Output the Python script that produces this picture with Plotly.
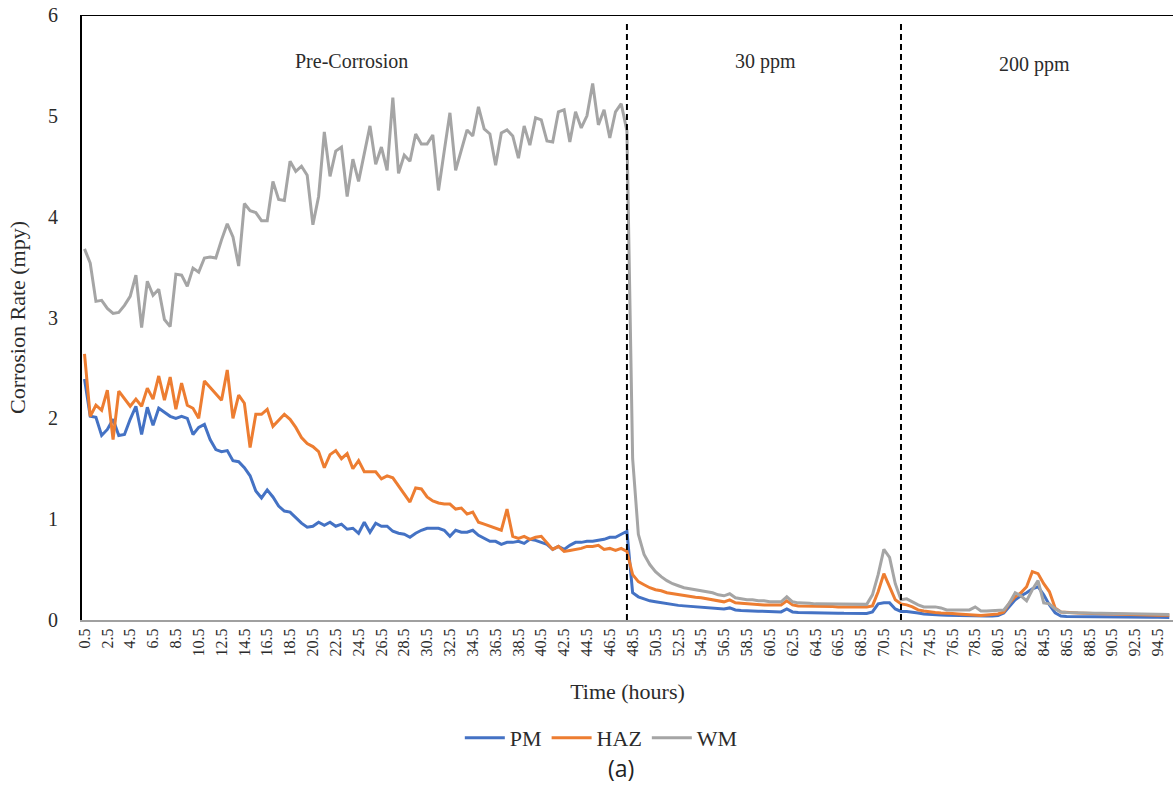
import plotly.graph_objects as go

# Sampling times (hours), every half hour from 0.5 h
hours = [i * 0.5 for i in range(1, 192)]

# Corrosion rate (mpy) per zone
pm = [
    2.39, 2.02, 2.01, 1.83, 1.89, 1.99, 1.83, 1.84, 1.99, 2.12,
    1.84, 2.11, 1.93, 2.10, 2.06, 2.02, 2.00, 2.02, 2.00, 1.84,
    1.91, 1.94, 1.79, 1.69, 1.67, 1.68, 1.58, 1.57, 1.51, 1.43,
    1.28, 1.21, 1.29, 1.22, 1.13, 1.08, 1.07, 1.01, 0.96, 0.92,
    0.93, 0.97, 0.94, 0.97, 0.93, 0.95, 0.90, 0.91, 0.86, 0.97,
    0.87, 0.96, 0.93, 0.93, 0.88, 0.86, 0.85, 0.82, 0.86, 0.89,
    0.91, 0.91, 0.91, 0.89, 0.83, 0.89, 0.87, 0.87, 0.89, 0.84,
    0.81, 0.78, 0.78, 0.75, 0.77, 0.77, 0.78, 0.76, 0.80, 0.79,
    0.77, 0.75, 0.70, 0.73, 0.70, 0.74, 0.77, 0.77, 0.78, 0.78,
    0.79, 0.80, 0.82, 0.82, 0.85, 0.88, 0.27, 0.23, 0.21, 0.19,
    0.18, 0.17, 0.16, 0.15, 0.145, 0.14, 0.135, 0.13, 0.125, 0.12,
    0.115, 0.11, 0.11, 0.12, 0.10, 0.095, 0.09, 0.09, 0.088, 0.085,
    0.083, 0.08, 0.08, 0.11, 0.08, 0.075, 0.075, 0.072, 0.072, 0.07,
    0.07, 0.068, 0.068, 0.066, 0.066, 0.065, 0.065, 0.065, 0.08, 0.16,
    0.17, 0.17, 0.11, 0.085, 0.085, 0.08, 0.07, 0.06, 0.055, 0.05,
    0.05, 0.048, 0.046, 0.045, 0.044, 0.043, 0.042, 0.041, 0.04, 0.04,
    0.045, 0.07, 0.14, 0.20, 0.24, 0.27, 0.31, 0.33, 0.25, 0.15,
    0.07, 0.04, 0.035, 0.034, 0.034, 0.033, 0.033, 0.032, 0.032, 0.031,
    0.031, 0.03, 0.03, 0.029, 0.029, 0.028, 0.028, 0.027, 0.027, 0.026,
    0.026,
]

haz = [
    2.64, 2.02, 2.13, 2.08, 2.28, 1.79, 2.27, 2.19, 2.12, 2.19,
    2.12, 2.30, 2.19, 2.42, 2.18, 2.41, 2.09, 2.35, 2.13, 2.10,
    2.00, 2.37, 2.31, 2.24, 2.18, 2.48, 2.00, 2.23, 2.15, 1.71,
    2.04, 2.04, 2.09, 1.92, 1.98, 2.04, 1.99, 1.91, 1.81, 1.75,
    1.72, 1.67, 1.51, 1.64, 1.68, 1.60, 1.65, 1.50, 1.58, 1.47,
    1.47, 1.47, 1.40, 1.43, 1.41, 1.33, 1.25, 1.17, 1.31, 1.30,
    1.22, 1.18, 1.16, 1.15, 1.15, 1.10, 1.11, 1.05, 1.07, 0.97,
    0.95, 0.93, 0.91, 0.89, 1.10, 0.83, 0.81, 0.83, 0.80, 0.82,
    0.83, 0.76, 0.70, 0.73, 0.68, 0.69, 0.70, 0.71, 0.73, 0.73,
    0.74, 0.70, 0.71, 0.69, 0.71, 0.68, 0.45, 0.38, 0.35, 0.32,
    0.30, 0.29, 0.27, 0.26, 0.25, 0.24, 0.23, 0.225, 0.22, 0.21,
    0.20, 0.19, 0.18, 0.20, 0.17, 0.165, 0.16, 0.16, 0.155, 0.15,
    0.15, 0.15, 0.15, 0.19, 0.15, 0.14, 0.14, 0.14, 0.14, 0.135,
    0.135, 0.135, 0.13, 0.13, 0.13, 0.13, 0.13, 0.13, 0.14, 0.28,
    0.46, 0.33, 0.20, 0.16, 0.15, 0.13, 0.10, 0.09, 0.08, 0.075,
    0.07, 0.07, 0.065, 0.06, 0.055, 0.05, 0.045, 0.045, 0.05, 0.055,
    0.06, 0.08, 0.17, 0.23, 0.27, 0.33, 0.48, 0.46, 0.36, 0.28,
    0.12, 0.08, 0.075, 0.07, 0.07, 0.068, 0.066, 0.065, 0.064, 0.062,
    0.06, 0.058, 0.056, 0.055, 0.053, 0.052, 0.05, 0.049, 0.048, 0.047,
    0.046,
]

wm = [
    3.68, 3.54, 3.16, 3.17, 3.09, 3.04, 3.05, 3.12, 3.21, 3.42,
    2.90, 3.36, 3.22, 3.28, 2.98, 2.91, 3.43, 3.42, 3.31, 3.49,
    3.45, 3.59, 3.60, 3.59, 3.77, 3.93, 3.80, 3.51, 4.13, 4.06,
    4.04, 3.96, 3.96, 4.35, 4.17, 4.16, 4.55, 4.45, 4.50, 4.41,
    3.92, 4.20, 4.84, 4.40, 4.65, 4.69, 4.20, 4.57, 4.35, 4.62,
    4.90, 4.52, 4.69, 4.46, 5.18, 4.43, 4.61, 4.55, 4.82, 4.72,
    4.72, 4.81, 4.26, 4.65, 5.03, 4.46, 4.65, 4.86, 4.80, 5.09,
    4.87, 4.82, 4.51, 4.83, 4.86, 4.80, 4.58, 4.90, 4.71, 4.98,
    4.96, 4.75, 4.74, 5.04, 5.06, 4.74, 5.04, 4.88, 5.00, 5.32,
    4.91, 5.06, 4.78, 5.04, 5.12, 4.85, 1.60, 0.85, 0.65, 0.55,
    0.48, 0.43, 0.39, 0.36, 0.34, 0.32, 0.31, 0.30, 0.29, 0.28,
    0.27, 0.25, 0.24, 0.26, 0.22, 0.21, 0.20, 0.20, 0.19, 0.19,
    0.18, 0.18, 0.18, 0.23, 0.18, 0.17, 0.17, 0.165, 0.16, 0.16,
    0.16, 0.16, 0.16, 0.155, 0.155, 0.155, 0.155, 0.155, 0.25, 0.45,
    0.70, 0.62, 0.36, 0.20, 0.21, 0.18, 0.15, 0.13, 0.13, 0.13,
    0.12, 0.10, 0.10, 0.10, 0.10, 0.10, 0.13, 0.09, 0.09, 0.095,
    0.095, 0.10, 0.17, 0.27, 0.24, 0.19, 0.30, 0.39, 0.17, 0.16,
    0.11, 0.08, 0.075, 0.075, 0.072, 0.07, 0.07, 0.068, 0.067, 0.066,
    0.065, 0.064, 0.063, 0.062, 0.06, 0.06, 0.058, 0.057, 0.056, 0.055,
    0.055,
]

# Axis ticks: one label every two hours
tick_hours = [0.5 + 2 * i for i in range(48)]
tick_labels = [f"{h:.1f}" for h in tick_hours]

# Stage boundaries and stage captions
stage_bounds = [48, 72]
stage_names = ["Pre-Corrosion", "30 ppm", "200 ppm"]
stage_label_x = [23.9, 60.1, 83.7]
stage_label_y = [5.54, 5.54, 5.51]

series = [("PM", pm, "#4472C4"), ("HAZ", haz, "#ED7D31"), ("WM", wm, "#A5A5A5")]

serif = "Liberation Serif"
text_color = "#2b2b2b"

fig = go.Figure()
for name, vals, color in series:
    fig.add_trace(go.Scatter(
        x=hours, y=vals, name=name, mode="lines",
        line=dict(color=color, width=3),
    ))

shapes = [
    # frame line along the top of the plot
    dict(type="line", xref="paper", yref="y", x0=0, x1=1, y0=6, y1=6,
         line=dict(color="#000000", width=2)),
]
for xb in stage_bounds:
    shapes.append(dict(type="line", xref="x", yref="y", x0=xb, x1=xb, y0=0, y1=5.93,
                       line=dict(color="#000000", width=2, dash="6px,4px")))

annotations = []
for txt, ax, ay in zip(stage_names, stage_label_x, stage_label_y):
    annotations.append(dict(x=ax, y=ay, xref="x", yref="y", text=txt, showarrow=False,
                            font=dict(family=serif, size=20, color=text_color)))
annotations.append(dict(x=0.494, y=-0.245, xref="paper", yref="paper", text="(a)",
                        showarrow=False, xanchor="center", yanchor="middle",
                        font=dict(family="Open Sans", size=23, color="#222222")))

fig.update_layout(
    width=1173, height=785,
    margin=dict(l=82, r=0, t=15, b=165),
    paper_bgcolor="white", plot_bgcolor="white",
    showlegend=True,
    legend=dict(orientation="h", x=0.476, xanchor="center", y=-0.195, yanchor="middle",
                font=dict(family=serif, size=22, color=text_color),
                itemwidth=40, tracegroupgap=0),
    xaxis=dict(
        range=[0.28, 95.82], tickmode="array", tickvals=tick_hours, ticktext=tick_labels,
        tickangle=-90, tickfont=dict(family=serif, size=16, color=text_color),
        showline=True, linecolor="#a0a0a0", linewidth=2, showgrid=False, zeroline=False,
        ticks="",
        title=dict(text="Time (hours)", font=dict(family=serif, size=22, color=text_color),
                   standoff=28),
    ),
    yaxis=dict(
        range=[0, 6], dtick=1, tickfont=dict(family=serif, size=20, color=text_color),
        showline=True, linecolor="#000000", linewidth=2, showgrid=False, zeroline=False,
        ticks="", ticklabelstandoff=18,
        title=dict(text="Corrosion Rate (mpy)", font=dict(family=serif, size=22, color=text_color),
                   standoff=16),
    ),
    shapes=shapes,
    annotations=annotations,
)

fig.write_html("out.html")
